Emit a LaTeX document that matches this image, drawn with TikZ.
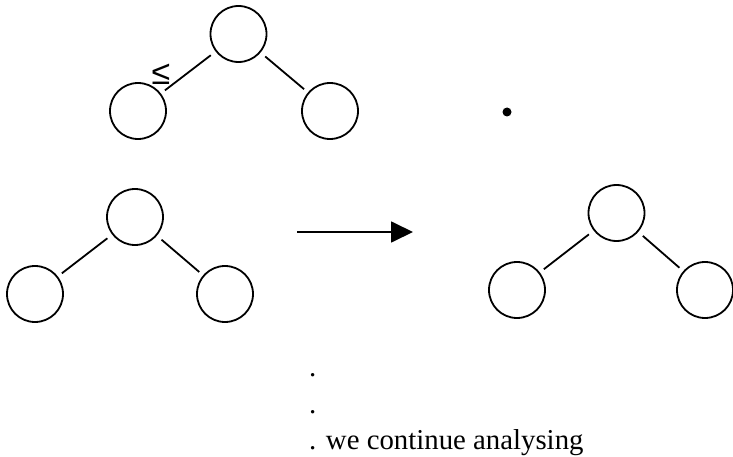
\documentclass[tikz,border=0pt]{standalone}
\usepackage{fontspec}
\setmainfont{Liberation Serif}
\newfontfamily\symfont{Liberation Sans}
\usetikzlibrary{arrows.meta}
\tikzset{
  treenode/.style={circle, draw, line width=1.8pt, minimum size=56pt, inner sep=0pt},
  edge/.style={line width=1.8pt, shorten <=6pt, shorten >=5pt},
  txt/.style={anchor=base west, inner sep=0pt, font=\fontsize{28.8}{34}\selectfont},
}
\begin{document}
\begin{tikzpicture}[x=1pt, y=-1pt]
\useasboundingbox (0,0) rectangle (733,457);
% top tree
\node[treenode] (t0) at (238.5,34) {};
\node[treenode] (t1) at (138,111) {};
\node[treenode] (t2) at (330,111) {};
\draw[edge] (t0) -- (t1);
\draw[edge] (t0) -- (t2);
\node[inner sep=0pt, font=\symfont\fontsize{34}{36}\selectfont] (le) at (161,74) {≤};
% bullet
\node[circle, fill, minimum size=9pt, inner sep=0pt] (dot) at (507,112) {};
% middle-left tree
\node[treenode] (m0) at (135,217) {};
\node[treenode] (m1) at (35,294) {};
\node[treenode] (m2) at (225,294) {};
\draw[edge] (m0) -- (m1);
\draw[edge] (m0) -- (m2);
% arrow
\coordinate (a1) at (297,232);
\coordinate (a2) at (413,232);
\draw[line width=1.8pt, -{Triangle[length=22pt,width=21pt]}] (a1) -- (a2);
% right tree
\node[treenode] (r0) at (616.5,213) {};
\node[treenode] (r1) at (517,290) {};
\node[treenode] (r2) at (705,290) {};
\draw[edge] (r0) -- (r1);
\draw[edge] (r0) -- (r2);
% text
\node[txt] (d1) at (309,376) {.};
\node[txt] (d2) at (309,413) {.};
\node[txt] (d3) at (309,449) {. we continue analysing};
\end{tikzpicture}
\end{document}
